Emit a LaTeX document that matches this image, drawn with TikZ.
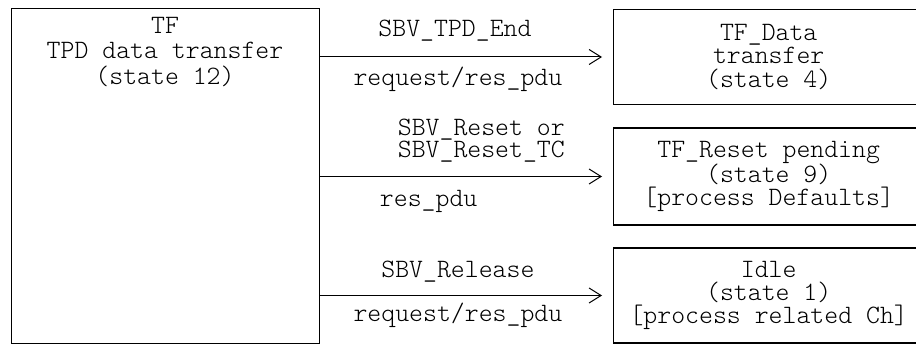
\documentclass[tikz,border=0pt]{standalone}
\usepackage{fontspec}
\setmonofont{Latin Modern Mono Light}
\usetikzlibrary{arrows.meta, positioning}

\begin{document}
\begin{tikzpicture}[
		x=1pt, y=-1pt,
		box/.style={draw, rectangle, line width=1.4pt, minimum width=310pt, anchor=west, align=center, font=\ttfamily\fontsize{26.5}{23}\selectfont},
		arrow/.style={-{Straight Barb[length=12pt, width=15pt]}, line width=1pt, shorten >=11pt},
		lab/.style={font=\ttfamily\fontsize{26.5}{22.5}\selectfont, align=left, inner sep=0pt}
		]
		\useasboundingbox (0,0) rectangle (916,345);
		
		% Nodes
		\node[draw, line width=1.4pt, minimum width=308pt, minimum height=335pt, anchor=north west] (tpdbox) at (11,8) {};
		\node[align=center, font=\ttfamily\fontsize{26.5}{25.5}\selectfont] (tpd) at (165,52) {TF\\TPD data transfer\\(state 12)};
		\node[box, minimum height=95pt, font=\ttfamily\fontsize{26.5}{23.5}\selectfont] (data) at (613,57) {TF\_Data\\transfer\\(state 4)};
		\node[box, minimum height=97pt] (reset) at (613,176.5) {TF\_Reset pending\\(state 9)\\{[process Defaults]}};
		\node[box, minimum height=95pt] (idle) at (613,295.5) {Idle\\(state 1)\\{[process related Ch]}};
		
		% Arrows
		\draw[arrow] (tpdbox.east |- data.west) -- node[lab, pos=0.46, yshift=26pt] (tpdend) {SBV\_TPD\_End} node[lab, pos=0.47, yshift=-22pt] (reqdata) {request/res\_pdu} (data.west);
		\draw[arrow] (tpdbox.east |- reset.west) -- node[lab, pos=0.55, yshift=36pt] (sbvreset) {SBV\_Reset or\\SBV\_Reset\_TC} node[lab, pos=0.37, yshift=-25pt] (respdu) {res\_pdu} (reset.west);
		\draw[arrow] (tpdbox.east |- idle.west) -- node[lab, pos=0.47, yshift=24pt] (release) {SBV\_Release} node[lab, pos=0.47, yshift=-20pt] (reqidle) {request/res\_pdu} (idle.west);
	\end{tikzpicture}
\end{document}
